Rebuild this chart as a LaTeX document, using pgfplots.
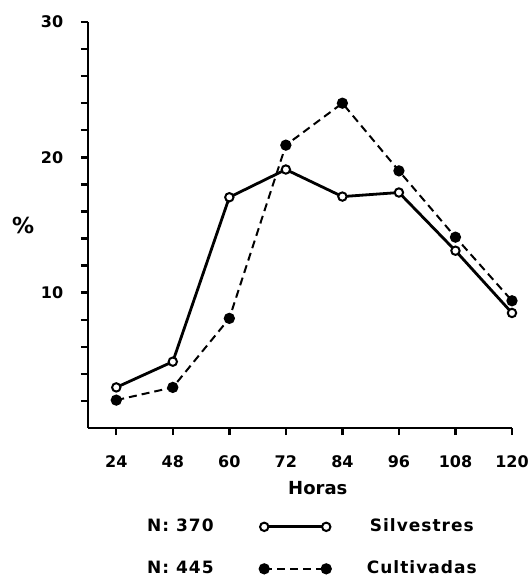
\documentclass[border=0pt]{standalone}
\usepackage{fontspec}
\setmainfont{DejaVu Sans}
\newfontfamily\spaced{DejaVu Sans}[LetterSpace=6]
\usepackage{pgfplots}
\pgfplotsset{compat=1.18}
\begin{document}
\begin{tikzpicture}
\useasboundingbox (0,0) rectangle (530pt,576pt);
\begin{axis}[
  at={(88pt,148pt)}, anchor=south west,
  scale only axis, width=424pt, height=406pt,
  axis lines*=left,
  axis line style={line width=2.8pt},
  xmin=-0.5, xmax=7, ymin=0, ymax=30,
  xtick={0,...,7}, xticklabels={24,48,60,72,84,96,108,120},
  ytick={10,20,30}, minor ytick={2,4,6,8,12,14,16,18,22,24,26,28},
  tick align=outside,
  tick style={line width=2.4pt, black},
  major tick length=7pt, minor tick length=7pt,
  /pgf/number format/assume math mode=true,
  ticklabel style={font=\fontsize{16}{16}\selectfont\bfseries},
  xticklabel style={anchor=center, yshift=-27pt},
  yticklabel style={anchor=center, xshift=-29pt},
  xlabel={Horas},
  xlabel style={font=\fontsize{18}{18}\selectfont\bfseries, at={(axis description cs:0.542,-0.148)}, anchor=center},
  ylabel={\%},
  ylabel style={font=\fontsize{22}{22}\selectfont\bfseries, rotate=-90, at={(axis description cs:-0.153,0.5)}, anchor=center},
  legend columns=2,
  legend image code/.code={\draw[mark repeat=1,mark phase=1,#1] plot coordinates {(0pt,0pt) (62pt,0pt)};},
  legend style={draw=none, fill=none, inner sep=0pt,
    at={(axis description cs:0.139,-0.222)}, anchor=north west,
    nodes={inner sep=0pt, text height=13pt, text depth=4pt, font=\fontsize{17}{17}\selectfont\spaced\bfseries},
    row sep=25pt,
    /tikz/column 1/.style={column sep=0pt},
    /tikz/column 2/.style={column sep=46pt},
    /tikz/column 3/.style={column sep=36pt}},
]
\addlegendimage{empty legend}
\addlegendentry{N:\ 370}
\addplot[black, line width=2.8pt, mark=*, mark size=4.2pt, mark options={fill=white, line width=2pt}]
  coordinates {(0,3.0) (1,4.9) (2,17.05) (3,19.1) (4,17.1) (5,17.4) (6,13.1) (7,8.5)};
\addlegendentry{Silvestres}
\addlegendimage{empty legend}
\addlegendentry{N:\ 445}
\addplot[black, line width=2pt, dash pattern=on 8pt off 5pt, mark=*, mark size=4.6pt, mark options={fill=black, solid}]
  coordinates {(0,2.06) (1,3.0) (2,8.1) (3,20.9) (4,24.0) (5,19.0) (6,14.1) (7,9.4)};
\addlegendentry{Cultivadas}
\end{axis}
\end{tikzpicture}
\end{document}
